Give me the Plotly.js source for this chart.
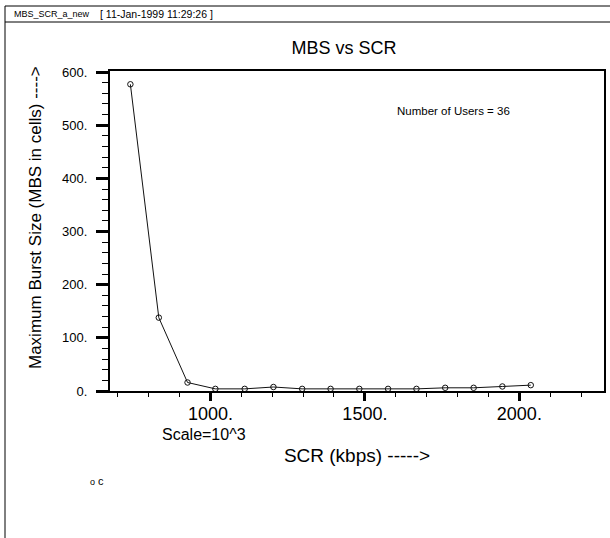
<!DOCTYPE html>
<html>
<head>
<meta charset="utf-8">
<script src="https://cdn.plot.ly/plotly-3.0.1.min.js"></script>
<style>html,body{margin:0;padding:0;background:#fff;}#chart{width:610px;height:538px;}</style>
</head>
<body>
<div id="chart"></div>
<script>
// ---- data ----
const scrKbps = [741, 833, 926, 1016, 1111, 1204, 1297, 1389, 1482, 1575, 1667, 1760, 1852, 1945, 2037];
const mbsCells = [577, 138, 16, 4, 4, 7.5, 4, 4, 4, 4, 4, 6, 6, 8.5, 11];
const seriesName = 'c';
const yTickVals = [0, 100, 200, 300, 400, 500, 600];
const yTickText = ['0.', '100.', '200.', '300.', '400.', '500.', '600.'];
const xTickVals = [1000, 1500, 2000];
const xTickText = ['1000.', '1500.', '2000.'];
const chartTitle = 'MBS vs SCR';
const xTitle = 'SCR (kbps) ----->';
const yTitle = 'Maximum Burst Size (MBS in cells) ---->';
const headerName = 'MBS_SCR_a_new';
const headerDate = '[ 11-Jan-1999 11:29:26 ]';
const noteText = 'Number of Users = 36';
const scaleText = 'Scale=10^3';

// ---- layout helpers (pixel -> paper) ----
const W = 610, H = 538;
const M = {l: 110, r: 6, t: 71, b: 147};
const PW = W - M.l - M.r, PH = H - M.t - M.b;
const px = x => (x - M.l) / PW;
const py = y => (H - M.b - y) / PH;
const FONT = 'Liberation Sans, Arial, Helvetica, sans-serif';

const trace = {
  x: scrKbps, y: mbsCells, name: seriesName,
  type: 'scatter', mode: 'lines+markers',
  line: {color: '#111', width: 1},
  marker: {symbol: 'circle-open', size: 5.5, color: '#111', line: {width: 1}},
  showlegend: false, hoverinfo: 'x+y'
};

const layout = {
  width: W, height: H,
  margin: M,
  paper_bgcolor: '#fff', plot_bgcolor: '#fff',
  font: {family: FONT, color: '#000'},
  showlegend: false,
  xaxis: {
    range: [675, 2274], showgrid: false, zeroline: false,
    showline: true, linecolor: '#000', linewidth: 2, mirror: true,
    ticks: 'outside', ticklen: 8, tickwidth: 3, tickcolor: '#000',
    tickvals: xTickVals, ticktext: xTickText,
    tickfont: {size: 18, family: FONT},
    ticklabelstandoff: -3,
    minor: {dtick: 100, tick0: 0, ticks: 'outside', ticklen: 4, tickwidth: 1, tickcolor: '#000', showgrid: false},
    title: {text: xTitle, font: {size: 19, family: FONT}, standoff: 26},
    automargin: false
  },
  yaxis: {
    range: [0, 602], showgrid: false, zeroline: false,
    showline: true, linecolor: '#000', linewidth: 2, mirror: true,
    ticks: 'outside', ticklen: 12, tickwidth: 3, tickcolor: '#000',
    tickvals: yTickVals, ticktext: yTickText,
    tickfont: {size: 13, family: FONT},
    ticklabelstandoff: 6,
    minor: {dtick: 20, tick0: 0, ticks: 'outside', ticklen: 6, tickwidth: 1, tickcolor: '#000', showgrid: false},
    automargin: false
  },
  title: {text: chartTitle, font: {size: 18, family: FONT}, x: px(344), xref: 'paper', xanchor: 'center', y: 1 - 48 / H, yref: 'container', yanchor: 'middle'},
  shapes: [
    {type: 'line', xref: 'paper', yref: 'paper', x0: px(5), x1: px(612), y0: py(6), y1: py(6), line: {color: '#000', width: 1}},
    {type: 'line', xref: 'paper', yref: 'paper', x0: px(5), x1: px(612), y0: py(22), y1: py(22), line: {color: '#000', width: 1}},
    {type: 'line', xref: 'paper', yref: 'paper', x0: px(5), x1: px(5), y0: py(6), y1: py(540), line: {color: '#000', width: 1}}
  ],
  annotations: [
    {text: yTitle, textangle: -90, xref: 'paper', yref: 'paper', x: px(35), y: py(218), xanchor: 'center', yanchor: 'middle', showarrow: false, font: {size: 17, family: FONT}},
    {text: headerName, xref: 'paper', yref: 'paper', x: px(12), y: py(14), xanchor: 'left', yanchor: 'middle', showarrow: false, font: {size: 9, family: FONT}},
    {text: headerDate, xref: 'paper', yref: 'paper', x: px(98), y: py(14), xanchor: 'left', yanchor: 'middle', showarrow: false, font: {size: 10.5, family: FONT}},
    {text: noteText, xref: 'paper', yref: 'paper', x: px(395), y: py(111), xanchor: 'left', yanchor: 'middle', showarrow: false, font: {size: 11.5, family: FONT}},
    {text: scaleText, xref: 'paper', yref: 'paper', x: px(160), y: py(434), xanchor: 'left', yanchor: 'middle', showarrow: false, font: {size: 16, family: FONT}},
    {text: '<span style="font-size:9px">o</span> ' + seriesName, xref: 'paper', yref: 'paper', x: px(88), y: py(481), xanchor: 'left', yanchor: 'middle', showarrow: false, font: {size: 11, family: FONT}}
  ]
};

Plotly.newPlot('chart', [trace], layout, {displayModeBar: false, staticPlot: true});
</script>
</body>
</html>
